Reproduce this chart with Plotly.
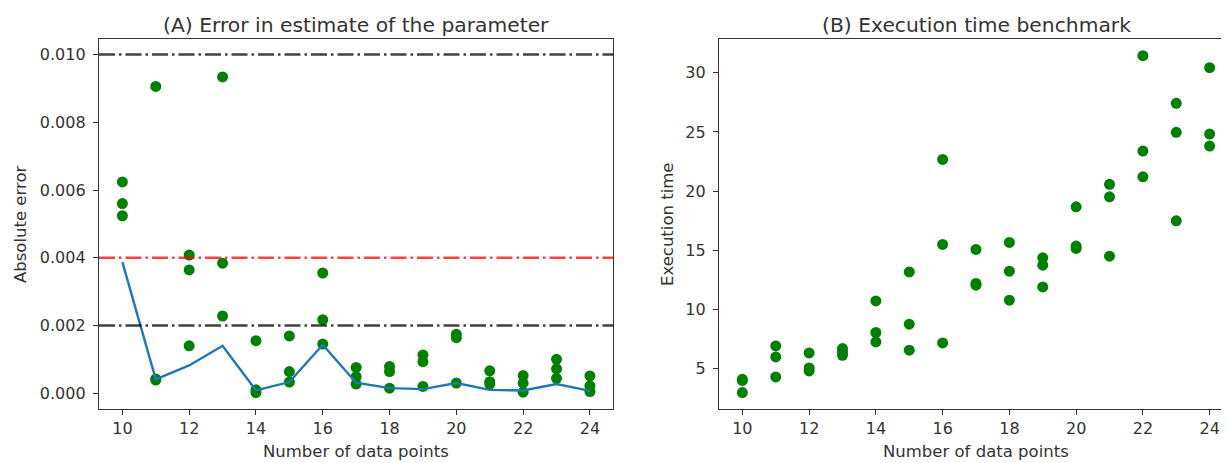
import plotly.graph_objects as go

# ---------------- data ----------------
n_points = [10, 11, 12, 13, 14, 15, 16, 17, 18, 19, 20, 21, 22, 23, 24]

# Panel A: absolute error of each trial (three trials per size)
err_trial1 = [0.00624, 0.00906, 0.00408, 0.00934, 0.00155, 0.00169, 0.00355, 0.00076, 0.00079, 0.00113, 0.00174, 0.00066, 0.00052, 0.00100, 0.00051]
err_trial2 = [0.00560, 0.00039, 0.00364, 0.00384, 0.00010, 0.00064, 0.00217, 0.00049, 0.00064, 0.00093, 0.00164, 0.00034, 0.00030, 0.00072, 0.00022]
err_trial3 = [0.00524, 0.00042, 0.00140, 0.00228, 0.00002, 0.00033, 0.00145, 0.00027, 0.00015, 0.00020, 0.00030, 0.00027, 0.00003, 0.00044, 0.00005]
# Panel A: error of the combined estimate (blue line)
err_combined = [0.00387, 0.00041, 0.00082, 0.00140, 0.00008, 0.00033, 0.00143, 0.00031, 0.00015, 0.00012, 0.00030, 0.00010, 0.00008, 0.00027, 0.00007]
# Panel A: reference levels (dash-dot lines)
ref_levels = [0.010, 0.004, 0.002]
ref_colors = ["rgba(0,0,0,0.75)", "rgba(255,0,0,0.75)", "rgba(0,0,0,0.75)"]

# Panel B: execution time of each trial
time_trial1 = [4.09, 6.91, 6.32, 6.69, 10.72, 13.17, 22.68, 15.07, 15.66, 14.36, 18.67, 20.57, 31.45, 27.42, 30.43]
time_trial2 = [2.97, 5.98, 5.05, 6.40, 8.05, 8.75, 15.49, 12.19, 13.23, 13.74, 15.35, 19.52, 23.38, 24.97, 24.82]
time_trial3 = [4.00, 4.29, 4.80, 6.12, 7.25, 6.55, 7.17, 12.05, 10.78, 11.90, 15.15, 14.50, 21.21, 17.49, 23.81]

titles = ["(A) Error in estimate of the parameter", "(B) Execution time benchmark"]
x_label = "Number of data points"
y_labels = ["Absolute error", "Execution time"]
x_ticks = [10, 12, 14, 16, 18, 20, 22, 24]
yA_ticks = [0.000, 0.002, 0.004, 0.006, 0.008, 0.010]
yB_ticks = [5, 10, 15, 20, 25, 30]

# ---------------- layout geometry ----------------
# the page body adds an 8px offset, so the figure is 8px smaller and
# every screen position is measured from that offset
OFF = 8
W, H = 1229 - OFF, 463 - OFF
FONT = "DejaVu Sans"
TXT = "#333333"
GREEN = "#008000"

def px(x):
    return (x - OFF) / W

def py(y):
    return 1 - (y - OFF) / H

axA = [px(99), px(613.3)]
axB = [px(719), 1.0]
ydom = [py(408.8), py(39.3)]

fig = go.Figure()

# Panel A scatter points
for vals in (err_trial1, err_trial2, err_trial3):
    fig.add_trace(go.Scatter(x=n_points, y=vals, mode="markers",
                             marker=dict(color=GREEN, size=11, line=dict(width=0)),
                             xaxis="x", yaxis="y", showlegend=False))
fig.add_trace(go.Scatter(x=n_points, y=err_combined, mode="lines",
                         line=dict(color="#1f77b4", width=2.4),
                         xaxis="x", yaxis="y", showlegend=False))

# Panel B scatter points
for vals in (time_trial1, time_trial2, time_trial3):
    fig.add_trace(go.Scatter(x=n_points, y=vals, mode="markers",
                             marker=dict(color=GREEN, size=11, line=dict(width=0)),
                             xaxis="x2", yaxis="y2", showlegend=False))

shapes = []
for lvl, col in zip(ref_levels, ref_colors):
    shapes.append(dict(type="line", xref="x domain", yref="y", x0=0, x1=1, y0=lvl, y1=lvl,
                       line=dict(color=col, width=2.6, dash="16px,4px,2.5px,4px"), layer="above"))

axis_common = dict(showgrid=False, zeroline=False, showline=True, linecolor="#333333", linewidth=1.3,
                   ticks="outside", ticklen=5, tickwidth=1.2, tickcolor="#333333",
                   tickfont=dict(family=FONT, size=16, color=TXT), automargin=False)

fig.update_layout(
    width=W, height=H,
    margin=dict(l=0, r=0, t=0, b=0),
    paper_bgcolor="white", plot_bgcolor="white",
    font=dict(family=FONT, size=16, color=TXT),
    showlegend=False,
    shapes=shapes,
    xaxis=dict(domain=axA, range=[9.3, 24.7], tickvals=x_ticks, mirror=True, anchor="y", **axis_common),
    yaxis=dict(domain=ydom, range=[-0.00046, 0.01045], tickvals=yA_ticks, tickformat=".3f",
               mirror=True, anchor="x", ticklabelstandoff=4, **axis_common),
    xaxis2=dict(domain=axB, range=[9.3, 24.58], tickvals=x_ticks, mirror=True, anchor="y2", **axis_common),
    yaxis2=dict(domain=ydom, range=[1.6, 32.83], tickvals=yB_ticks, mirror=False, anchor="x2",
                ticklabelstandoff=4, **axis_common),
)

annotations = [
    dict(text=titles[0], x=px(356), y=py(25), font=dict(family=FONT, size=20.3, color=TXT)),
    dict(text=titles[1], x=px(976), y=py(25), font=dict(family=FONT, size=20.3, color=TXT)),
    dict(text=x_label, x=px(356), y=py(451), font=dict(family=FONT, size=16.5, color=TXT)),
    dict(text=x_label, x=px(976), y=py(451), font=dict(family=FONT, size=16.5, color=TXT)),
    dict(text=y_labels[0], x=px(20), y=py(224), textangle=-90, font=dict(family=FONT, size=16.5, color=TXT)),
    dict(text=y_labels[1], x=px(667), y=py(224), textangle=-90, font=dict(family=FONT, size=16.5, color=TXT)),
]
for a in annotations:
    a.update(xref="paper", yref="paper", showarrow=False, xanchor="center", yanchor="middle")
fig.update_layout(annotations=annotations)

fig.write_html("out.html")
